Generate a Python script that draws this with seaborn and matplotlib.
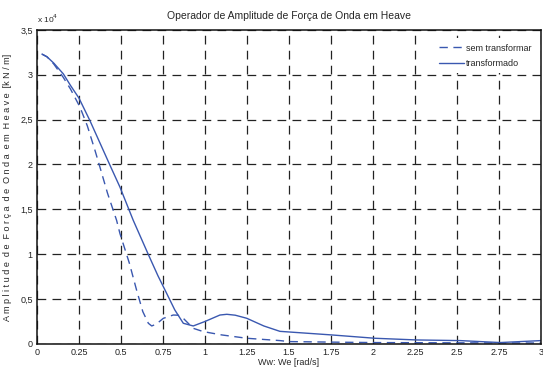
import numpy as np
import pandas as pd
import matplotlib
matplotlib.use("Agg")
import matplotlib.pyplot as plt
import seaborn as sns
from matplotlib.ticker import FixedLocator, FixedFormatter

# frequency [rad/s] and amplitude [x 1e4 kN/m]
w_sem = [0.03, 0.06, 0.10, 0.157, 0.20, 0.256, 0.30, 0.345, 0.375, 0.42, 0.474,
         0.494, 0.55, 0.593, 0.63, 0.663, 0.683, 0.71, 0.752, 0.811, 0.84, 0.871,
         0.93, 0.99, 1.10, 1.248, 1.446, 1.50, 1.75, 2.0, 2.5, 3.0]
a_sem = [3.23, 3.20, 3.12, 2.97, 2.84, 2.64, 2.43, 2.16, 1.97, 1.68, 1.378,
         1.23, 0.90, 0.60, 0.36, 0.23, 0.20, 0.22, 0.285, 0.322, 0.32, 0.285,
         0.174, 0.137, 0.10, 0.063, 0.037, 0.026, 0.02, 0.015, 0.012, 0.01]

w_tr = [0.03, 0.06, 0.10, 0.157, 0.20, 0.25, 0.315, 0.375, 0.435, 0.494, 0.573,
        0.663, 0.72, 0.772, 0.82, 0.871, 0.93, 1.0, 1.089, 1.13, 1.18, 1.248,
        1.35, 1.446, 1.6, 1.754, 2.01, 2.26, 2.518, 2.756, 3.0]
a_tr = [3.23, 3.20, 3.13, 3.01, 2.88, 2.74, 2.49, 2.24, 1.99, 1.748, 1.378,
        0.996, 0.76, 0.563, 0.38, 0.23, 0.20, 0.25, 0.322, 0.33, 0.32, 0.286,
        0.20, 0.14, 0.12, 0.10, 0.063, 0.044, 0.037, 0.015, 0.037]

series = ["sem transformar", "transformado"]
x_ticks = [0, 0.25, 0.5, 0.75, 1, 1.25, 1.5, 1.75, 2, 2.25, 2.5, 2.75, 3]
x_labels = ["0", "0.25", "0.5", "0.75", "1", "1.25", "1.5", "1.75", "2", "2.25", "2.5", "2.75", "3"]
y_ticks = [0, 0.5, 1, 1.5, 2, 2.5, 3, 3.5]
y_labels = ["0", "0,5", "1", "1,5", "2", "2,5", "3", "3,5"]

df = pd.concat([
    pd.DataFrame({"w": w_sem, "amp": a_sem, "serie": series[0]}),
    pd.DataFrame({"w": w_tr, "amp": a_tr, "serie": series[1]}),
])

sns.set_style("white")
plt.rcParams["font.family"] = ["Liberation Sans Narrow", "Liberation Sans", "DejaVu Sans"]
plt.rcParams["font.size"] = 6.5

fig = plt.figure(figsize=(5.43, 3.69), dpi=100)
ax = fig.add_axes([0.068, 0.068, 0.9285, 0.851])

blue = "#3a58b0"
sns.lineplot(data=df, x="w", y="amp", hue="serie", style="serie",
             palette={series[0]: blue, series[1]: blue},
             dashes={series[0]: (6, 4), series[1]: ""},
             sort=False, estimator=None, linewidth=1.0, ax=ax)

ax.set_xlim(0, 3)
ax.set_ylim(0, 3.5)
ax.xaxis.set_major_locator(FixedLocator(x_ticks))
ax.xaxis.set_major_formatter(FixedFormatter(x_labels))
ax.yaxis.set_major_locator(FixedLocator(y_ticks))
ax.yaxis.set_major_formatter(FixedFormatter(y_labels))
ax.tick_params(direction="in", length=3, width=0.8, pad=3, labelsize=6.5, colors="#222222")
ax.grid(True, color="#222222", linestyle=(0, (7, 5)), linewidth=0.9)
for s in ax.spines.values():
    s.set_color("#111111")
    s.set_linewidth(1.1)

ax.set_title("Operador de Amplitude de Força de Onda em Heave", fontsize=7.5, pad=8)
ax.set_xlabel("Ww: We [rad/s]", fontsize=6.5, labelpad=1)
ylab = "  ".join(" ".join(w) for w in ["Amplitude", "de", "Força", "de", "Onda", "em", "Heave"])
ax.set_ylabel(ylab + "  [k N / m]", fontsize=6.5, labelpad=6)
ax.text(0.0, 1.015, r"x 10$^4$", transform=ax.transAxes, fontsize=6, va="bottom")

leg = ax.legend(loc="upper right", bbox_to_anchor=(1.0, 0.988), frameon=True,
                handlelength=2.8, handletextpad=0.2, labelspacing=0.7, fontsize=6.5,
                borderpad=0.6)
leg.get_frame().set_facecolor("white")
leg.get_frame().set_edgecolor("none")
leg.get_frame().set_alpha(1)
leg.set_title(None)

fig.savefig("out.png", dpi=100)
